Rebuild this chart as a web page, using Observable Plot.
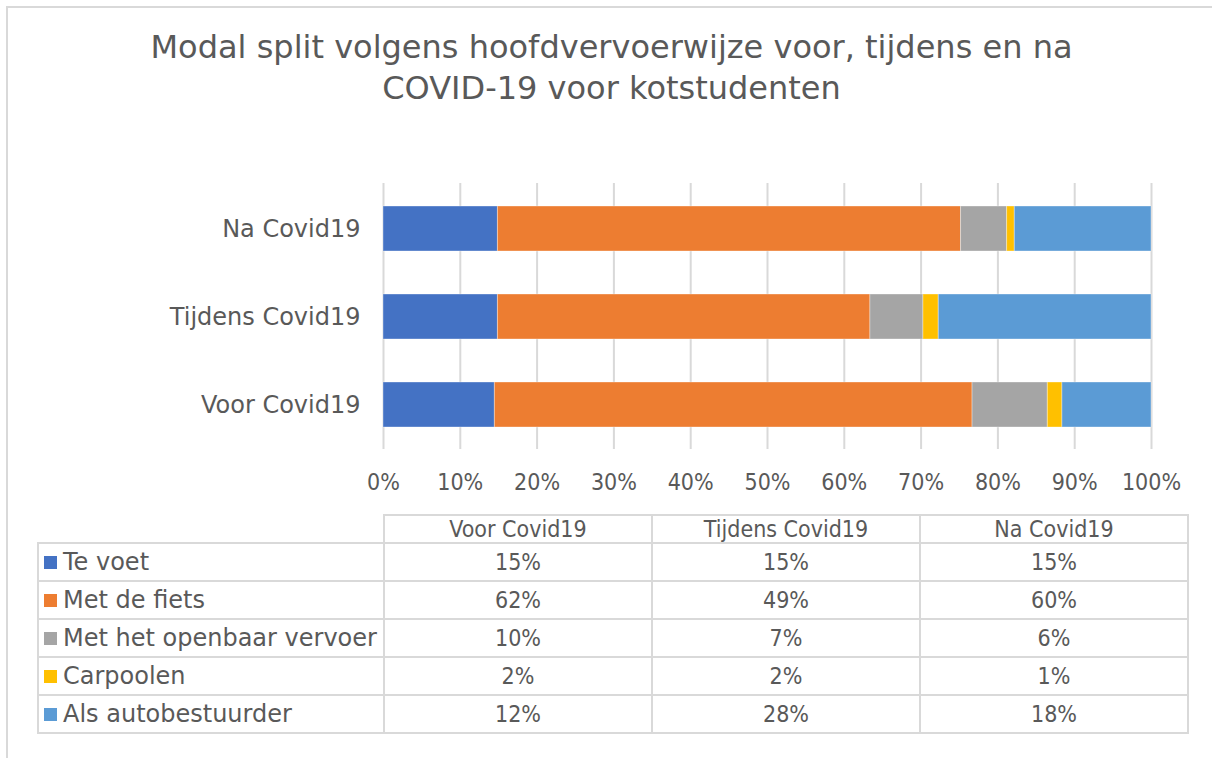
<!DOCTYPE html>
<html>
<head>
<meta charset="utf-8">
<script src="https://cdn.jsdelivr.net/npm/d3@7"></script>
<script src="https://cdn.jsdelivr.net/npm/@observablehq/plot@0.6"></script>
<style>
  html, body { margin: 0; padding: 0; background: #fff; }
  body { width: 1212px; height: 758px; position: relative; overflow: hidden; font-family: "DejaVu Sans", Verdana, sans-serif; color: #595959; }
  #frame { position: absolute; left: 6px; top: 6px; width: 1300px; height: 900px; border: 2px solid #d9d9d9; box-sizing: border-box; }
  #title { position: absolute; left: 0; top: 27px; width: 1223px; text-align: center; font-size: 32px; line-height: 41px; color: #595959; }
  #chart { position: absolute; left: 0; top: 170px; }
  #tbl { position: absolute; left: 37px; top: 514px; border-collapse: collapse; font-size: 23px; color: #595959; }
  #tbl td, #tbl th { border: 2px solid #d9d9d9; padding: 0; font-weight: normal; }
  #tbl th { height: 26px; text-align: center; width: 266px; line-height: 26px; font-family: "DejaVu Sans Condensed", "DejaVu Sans", sans-serif; font-stretch: condensed; }
  #tbl th.corner { border: none; width: 345px; }
  #tbl td { height: 36px; text-align: center; line-height: 36px; font-family: "DejaVu Sans Condensed", "DejaVu Sans", sans-serif; font-stretch: condensed; }
  #tbl td.lab { text-align: left; padding-left: 5px; white-space: nowrap; font-family: "DejaVu Sans", Verdana, sans-serif; font-stretch: normal; font-size: 24px; }
  .key { display: inline-block; width: 13px; height: 13px; margin-right: 6px; vertical-align: 1px; }
  #chart g[aria-label="x-axis tick label"] text { font-family: "DejaVu Sans Condensed", "DejaVu Sans", sans-serif; font-stretch: condensed; }
</style>
</head>
<body>
<div id="frame"></div>
<div id="title">Modal split volgens hoofdvervoerwijze voor, tijdens en na<br>COVID-19 voor kotstudenten</div>
<div id="chart"></div>
<table id="tbl"></table>
<script>
// Periods (table columns, left to right) and y-axis order (top to bottom)
const periods = ["Voor Covid19", "Tijdens Covid19", "Na Covid19"];
const yOrder = ["Na Covid19", "Tijdens Covid19", "Voor Covid19"];
// Transport modes (stack order) and colours
const modes = ["Te voet", "Met de fiets", "Met het openbaar vervoer", "Carpoolen", "Als autobestuurder"];
const modeColors = ["#4472C4", "#ED7D31", "#A5A5A5", "#FFC000", "#5B9BD5"];
// Shares (%) per mode, in the order of `periods`
const teVoet         = [14.5, 14.9, 14.9];
const metDeFiets     = [62.2, 48.5, 60.3];
const openbaar       = [9.8, 6.9, 6.0];
const carpoolen      = [1.9, 2.0, 1.0];
const autobestuurder = [11.6, 27.7, 17.8];
const seriesValues = [teVoet, metDeFiets, openbaar, carpoolen, autobestuurder];
// X-axis ticks (%)
const xTicks = [0, 10, 20, 30, 40, 50, 60, 70, 80, 90, 100];

const rows = [];
modes.forEach((m, i) => periods.forEach((p, j) => rows.push({mode: m, period: p, value: seriesValues[i][j]})));

const chart = Plot.plot({
  width: 1212,
  height: 321,
  marginLeft: 383,
  marginRight: 61,
  marginTop: 13,
  marginBottom: 42,
  style: {fontFamily: "DejaVu Sans, Verdana, sans-serif", fontSize: "20px", color: "#595959", background: "transparent", overflow: "visible"},
  x: {domain: [0, 100]},
  y: {domain: yOrder, paddingInner: 0.49, paddingOuter: 0.25},
  color: {domain: modes, range: modeColors},
  marks: [
    Plot.gridX(xTicks, {stroke: "#d9d9d9", strokeOpacity: 1, strokeWidth: 2}),
    Plot.barX(rows, {x: "value", y: "period", fill: "mode", order: modes, stroke: "#ffffff", strokeOpacity: 0.35, strokeWidth: 1}),
    Plot.axisX(xTicks, {tickSize: 0, tickPadding: 24, tickFormat: d => d + "%", fill: "#595959", fontSize: 23, label: null}),
    Plot.axisY({tickSize: 0, tickPadding: 23, fill: "#595959", fontSize: 24, label: null})
  ]
});
document.getElementById("chart").appendChild(chart);

// Data table
const tbl = document.getElementById("tbl");
let html = '<tr><th class="corner"></th>' + periods.map(p => `<th>${p}</th>`).join("") + '</tr>';
modes.forEach((m, i) => {
  html += `<tr><td class="lab"><span class="key" style="background:${modeColors[i]}"></span>${m}</td>` +
    seriesValues[i].map(v => `<td>${Math.round(v)}%</td>`).join("") + '</tr>';
});
tbl.innerHTML = html;
</script>
</body>
</html>
